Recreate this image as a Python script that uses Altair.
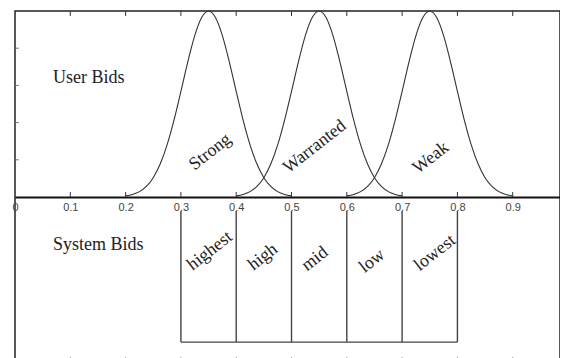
import altair as alt
import pandas as pd

# ---- data ----
strong_x = [0.2, 0.2125, 0.225, 0.2375, 0.25, 0.2625, 0.275, 0.2875, 0.3, 0.3125, 0.325, 0.3375, 0.35,
            0.3625, 0.375, 0.3875, 0.4, 0.4125, 0.425, 0.4375, 0.45, 0.4625, 0.475, 0.4875, 0.5]
strong_y = [0.006, 0.014, 0.029, 0.057, 0.104, 0.177, 0.280, 0.413, 0.568, 0.727, 0.868, 0.965, 1.0,
            0.965, 0.868, 0.727, 0.568, 0.413, 0.280, 0.177, 0.104, 0.057, 0.029, 0.014, 0.006]
warranted_x = [0.4, 0.4125, 0.425, 0.4375, 0.45, 0.4625, 0.475, 0.4875, 0.5, 0.5125, 0.525, 0.5375, 0.55,
               0.5625, 0.575, 0.5875, 0.6, 0.6125, 0.625, 0.6375, 0.65, 0.6625, 0.675, 0.6875, 0.7]
warranted_y = [0.006, 0.014, 0.029, 0.057, 0.104, 0.177, 0.280, 0.413, 0.568, 0.727, 0.868, 0.965, 1.0,
               0.965, 0.868, 0.727, 0.568, 0.413, 0.280, 0.177, 0.104, 0.057, 0.029, 0.014, 0.006]
weak_x = [0.6, 0.6125, 0.625, 0.6375, 0.65, 0.6625, 0.675, 0.6875, 0.7, 0.7125, 0.725, 0.7375, 0.75,
          0.7625, 0.775, 0.7875, 0.8, 0.8125, 0.825, 0.8375, 0.85, 0.8625, 0.875, 0.8875, 0.9]
weak_y = [0.006, 0.014, 0.029, 0.057, 0.104, 0.177, 0.280, 0.413, 0.568, 0.727, 0.868, 0.965, 1.0,
          0.965, 0.868, 0.727, 0.568, 0.413, 0.280, 0.177, 0.104, 0.057, 0.029, 0.014, 0.006]

curve_names = ["Strong", "Warranted", "Weak"]
curve_label_x = [0.353, 0.542, 0.752]
curve_label_y = [0.242, 0.270, 0.210]

bid_bounds = [0.3, 0.4, 0.5, 0.6, 0.7, 0.8]
bid_names = ["highest", "high", "mid", "low", "lowest"]
bid_label_x = [0.3526, 0.4485, 0.5425, 0.6456, 0.7595]
bid_label_y = [-0.290, -0.323, -0.333, -0.344, -0.301]

x_ticks = [0, 0.1, 0.2, 0.3, 0.4, 0.5, 0.6, 0.7, 0.8, 0.9]
inner_x_ticks = [0.1, 0.2, 0.3, 0.4, 0.5, 0.6, 0.7, 0.8, 0.9]
y_ticks = [0.2, 0.4, 0.6, 0.8]

panel_titles = ["User Bids", "System Bids"]
panel_title_x = [0.0687, 0.0687]
panel_title_y = [0.642, -0.258]

# ---- tables ----
curves = pd.concat([
    pd.DataFrame({"x": strong_x, "y": strong_y, "curve": "Strong"}),
    pd.DataFrame({"x": warranted_x, "y": warranted_y, "curve": "Warranted"}),
    pd.DataFrame({"x": weak_x, "y": weak_y, "curve": "Weak"}),
])
curve_labels = pd.DataFrame({"x": curve_label_x, "y": curve_label_y, "t": curve_names})
bounds_df = pd.DataFrame({"x": bid_bounds})
span_df = pd.DataFrame({"x": [bid_bounds[0]], "x2": [bid_bounds[-1]]})
bid_labels = pd.DataFrame({"x": bid_label_x, "y": bid_label_y, "t": bid_names})
xt_df = pd.DataFrame({"x": inner_x_ticks})
yt_df = pd.DataFrame({"y": y_ticks})
titles_df = pd.DataFrame({"x": panel_title_x, "y": panel_title_y, "t": panel_titles})

X = alt.Scale(domain=[0, 0.9855], nice=False, zero=False)
Y = alt.Scale(domain=[-0.887, 1], nice=False, zero=False)
INK = "#333333"
SERIF = "Liberation Serif"

curve_layer = alt.Chart(curves).mark_line(color=INK, strokeWidth=1.1, interpolate="monotone").encode(
    x=alt.X("x:Q", scale=X, axis=alt.Axis(
        values=x_ticks, format="~g", orient="bottom", offset=-165, ticks=False,
        domainColor="#111111", domainWidth=2, labelColor="#444444", labelFont="Liberation Sans",
        labelFontSize=11, labelPadding=4, labelFlush=False, labelOverlap=False, grid=False, title=None)),
    y=alt.Y("y:Q", scale=Y, axis=None),
    detail="curve:N",
)

curve_text = alt.Chart(curve_labels).mark_text(font=SERIF, fontSize=18, angle=322, color="#222222").encode(
    x=alt.X("x:Q", scale=X), y=alt.Y("y:Q", scale=Y), text="t:N")

bottom_ticks = alt.Chart(xt_df).mark_rule(color=INK, strokeWidth=1).encode(
    x=alt.X("x:Q", scale=X), y=alt.datum(0), y2=alt.datum(0.027))
top_ticks = alt.Chart(xt_df).mark_rule(color=INK, strokeWidth=1).encode(
    x=alt.X("x:Q", scale=X), y=alt.datum(1), y2=alt.datum(0.973))
left_ticks = alt.Chart(yt_df).mark_rule(color="#777777", strokeWidth=1).encode(
    y=alt.Y("y:Q", scale=Y), x=alt.datum(0), x2=alt.datum(0.007))
foot_ticks = alt.Chart(xt_df).mark_rule(color="#999999", strokeWidth=1).encode(
    x=alt.X("x:Q", scale=X), y=alt.datum(-0.887), y2=alt.datum(-0.86))

bound_lines = alt.Chart(bounds_df).mark_rule(color="#444444", strokeWidth=1.4).encode(
    x=alt.X("x:Q", scale=X), y=alt.datum(-0.075), y2=alt.datum(-0.78))
base_line = alt.Chart(span_df).mark_rule(color="#444444", strokeWidth=1.4).encode(
    x=alt.X("x:Q", scale=X), x2="x2:Q", y=alt.datum(-0.78))

bid_text = alt.Chart(bid_labels).mark_text(font=SERIF, fontSize=18, angle=322, color="#222222").encode(
    x=alt.X("x:Q", scale=X), y=alt.Y("y:Q", scale=Y), text="t:N")

title_text = alt.Chart(titles_df).mark_text(font=SERIF, fontSize=18, align="left", color="#222222").encode(
    x=alt.X("x:Q", scale=X), y=alt.Y("y:Q", scale=Y), text="t:N")

chart = alt.layer(
    curve_layer, curve_text, bottom_ticks, top_ticks, left_ticks, foot_ticks,
    bound_lines, base_line, bid_text, title_text,
).properties(
    width=545, height=351,
    padding={"left": 7, "top": 3, "right": 0, "bottom": 0},
    autosize=alt.AutoSizeParams(type="none"),
    background="white",
).configure_view(stroke="#222222", strokeWidth=1.5)

chart.save("out.html", embed_options={"renderer": "svg", "actions": False})
